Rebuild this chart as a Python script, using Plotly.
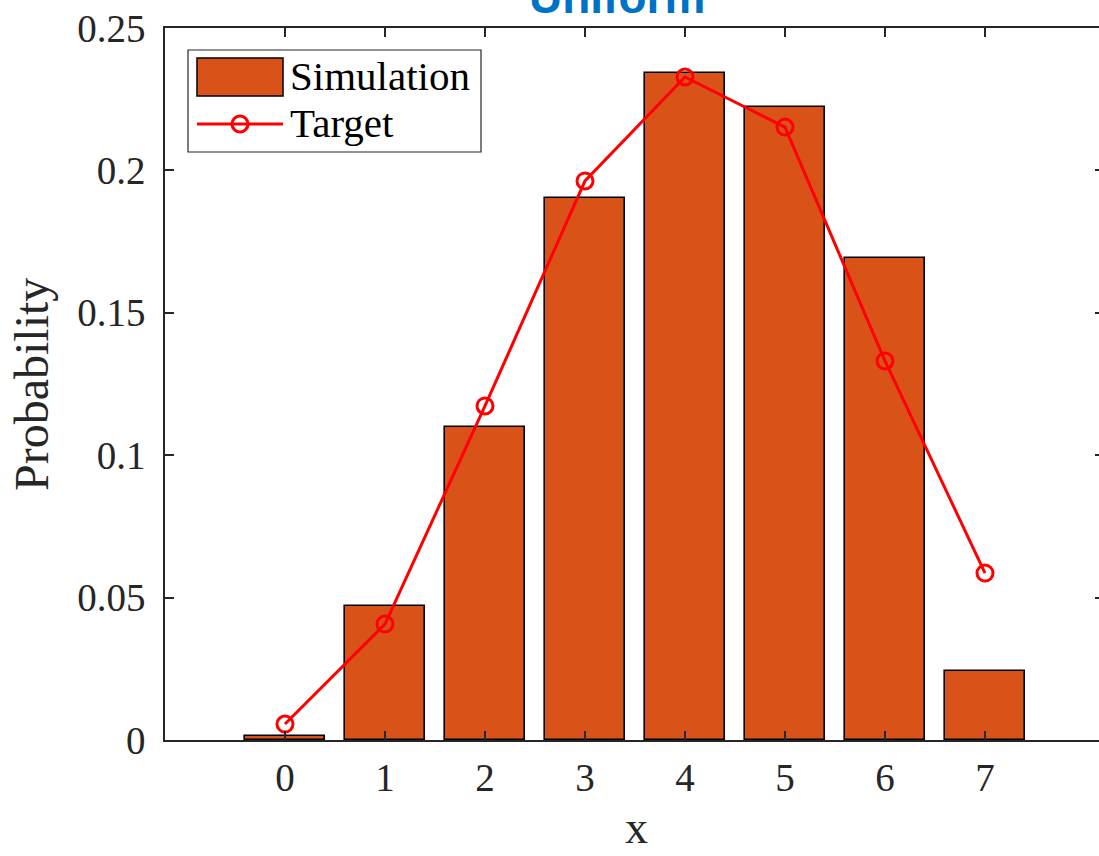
import plotly.graph_objects as go

# Outcome values and their probabilities
x_vals = [0, 1, 2, 3, 4, 5, 6, 7]
simulation = [0.0015, 0.047, 0.110, 0.1903, 0.2342, 0.2222, 0.1692, 0.0241]
target = [0.0056, 0.0407, 0.1173, 0.1963, 0.2328, 0.2152, 0.1331, 0.0586]

y_ticks = [0, 0.05, 0.1, 0.15, 0.2, 0.25]
y_tick_text = ["0", "0.05", "0.1", "0.15", "0.2", "0.25"]

BAR_COLOR = "#D95319"
LINE_COLOR = "#FF0000"
AXIS_COLOR = "#262626"
SERIF = "Liberation Serif, DejaVu Serif, serif"
FS = 39

W, H = 1099, 856
ML, MT, MB, MR = 165, 28, 116, 0
PW = W - ML - MR
PH = H - MT - MB


def px(xp):
    return (xp - ML) / PW


def py(yp):
    return (H - MB - yp) / PH


fig = go.Figure()
fig.add_trace(go.Bar(
    x=x_vals, y=simulation, width=0.8, name="Simulation",
    marker=dict(color=BAR_COLOR, line=dict(color="#000000", width=1.6)),
    showlegend=False,
))
fig.add_trace(go.Scatter(
    x=x_vals, y=target, mode="lines+markers", name="Target",
    line=dict(color=LINE_COLOR, width=3),
    marker=dict(symbol="circle-open", size=16, color=LINE_COLOR,
                line=dict(color=LINE_COLOR, width=3)),
    showlegend=False,
))
# invisible trace so the right-hand tick axis is drawn
fig.add_trace(go.Scatter(x=[0], y=[0], yaxis="y2", mode="markers",
                         marker=dict(opacity=0), showlegend=False,
                         hoverinfo="skip"))

fig.update_layout(
    width=W, height=H,
    margin=dict(l=ML, r=MR, t=MT, b=MB),
    plot_bgcolor="white", paper_bgcolor="white",
    bargap=0,
    xaxis=dict(
        range=[-1.2, 8.14], tickvals=x_vals, ticktext=[str(v) for v in x_vals],
        ticks="inside", ticklen=9, tickwidth=1.5, tickcolor=AXIS_COLOR,
        showline=True, linecolor=AXIS_COLOR, linewidth=1.5, mirror="ticks",
        showgrid=False, zeroline=False,
        tickfont=dict(family=SERIF, size=FS, color="#262626"),
        ticklabelstandoff=2,
    ),
    yaxis=dict(
        range=[0, 0.25], tickvals=y_ticks, ticktext=y_tick_text,
        ticks="inside", ticklen=9, tickwidth=1.5, tickcolor=AXIS_COLOR,
        showline=True, linecolor=AXIS_COLOR, linewidth=1.5, mirror=False,
        showgrid=False, zeroline=False,
        tickfont=dict(family=SERIF, size=FS, color="#262626"),
        ticklabelstandoff=10,
    ),
    yaxis2=dict(
        overlaying="y", side="right", range=[0, 0.25], tickvals=y_ticks,
        ticks="inside", ticklen=4, tickwidth=1.5, tickcolor=AXIS_COLOR,
        showticklabels=False, showline=False, showgrid=False, zeroline=False,
    ),
)

# axis titles
fig.add_annotation(text="x", xref="paper", yref="paper",
                   x=px(636), y=py(855), xanchor="center", yanchor="bottom",
                   showarrow=False,
                   font=dict(family=SERIF, size=46, color="#262626"))
fig.add_annotation(text="Probability", xref="paper", yref="paper",
                   x=px(32), y=py(385), xanchor="center", yanchor="middle",
                   textangle=-90, showarrow=False,
                   font=dict(family=SERIF, size=48, color="#262626"))

# title
fig.add_annotation(text="<b>Uniform</b>", xref="paper", yref="paper",
                   x=px(617), y=py(25), xanchor="center", yanchor="bottom",
                   showarrow=False,
                   font=dict(family="Liberation Sans, Arial, sans-serif",
                             size=46, color="#0072C6"))

# legend box
fig.add_shape(type="rect", xref="paper", yref="paper",
              x0=px(188), x1=px(481), y0=py(152), y1=py(50),
              line=dict(color=AXIS_COLOR, width=1.2), fillcolor="white",
              layer="above")
fig.add_shape(type="rect", xref="paper", yref="paper",
              x0=px(197), x1=px(283), y0=py(96), y1=py(58),
              line=dict(color="#000000", width=1.5), fillcolor=BAR_COLOR,
              layer="above")
fig.add_shape(type="line", xref="paper", yref="paper",
              x0=px(197), x1=px(283), y0=py(124), y1=py(124),
              line=dict(color=LINE_COLOR, width=3), layer="above")
fig.add_shape(type="circle", xref="paper", yref="paper",
              x0=px(232), x1=px(248), y0=py(132), y1=py(116),
              line=dict(color=LINE_COLOR, width=3), layer="above")
fig.add_annotation(text="Simulation", xref="paper", yref="paper",
                   x=px(288), y=py(76), xanchor="left", yanchor="middle",
                   showarrow=False,
                   font=dict(family=SERIF, size=41, color="#000000"))
fig.add_annotation(text="Target", xref="paper", yref="paper",
                   x=px(288), y=py(123), xanchor="left", yanchor="middle",
                   showarrow=False,
                   font=dict(family=SERIF, size=41, color="#000000"))

fig.write_html("out.html")
